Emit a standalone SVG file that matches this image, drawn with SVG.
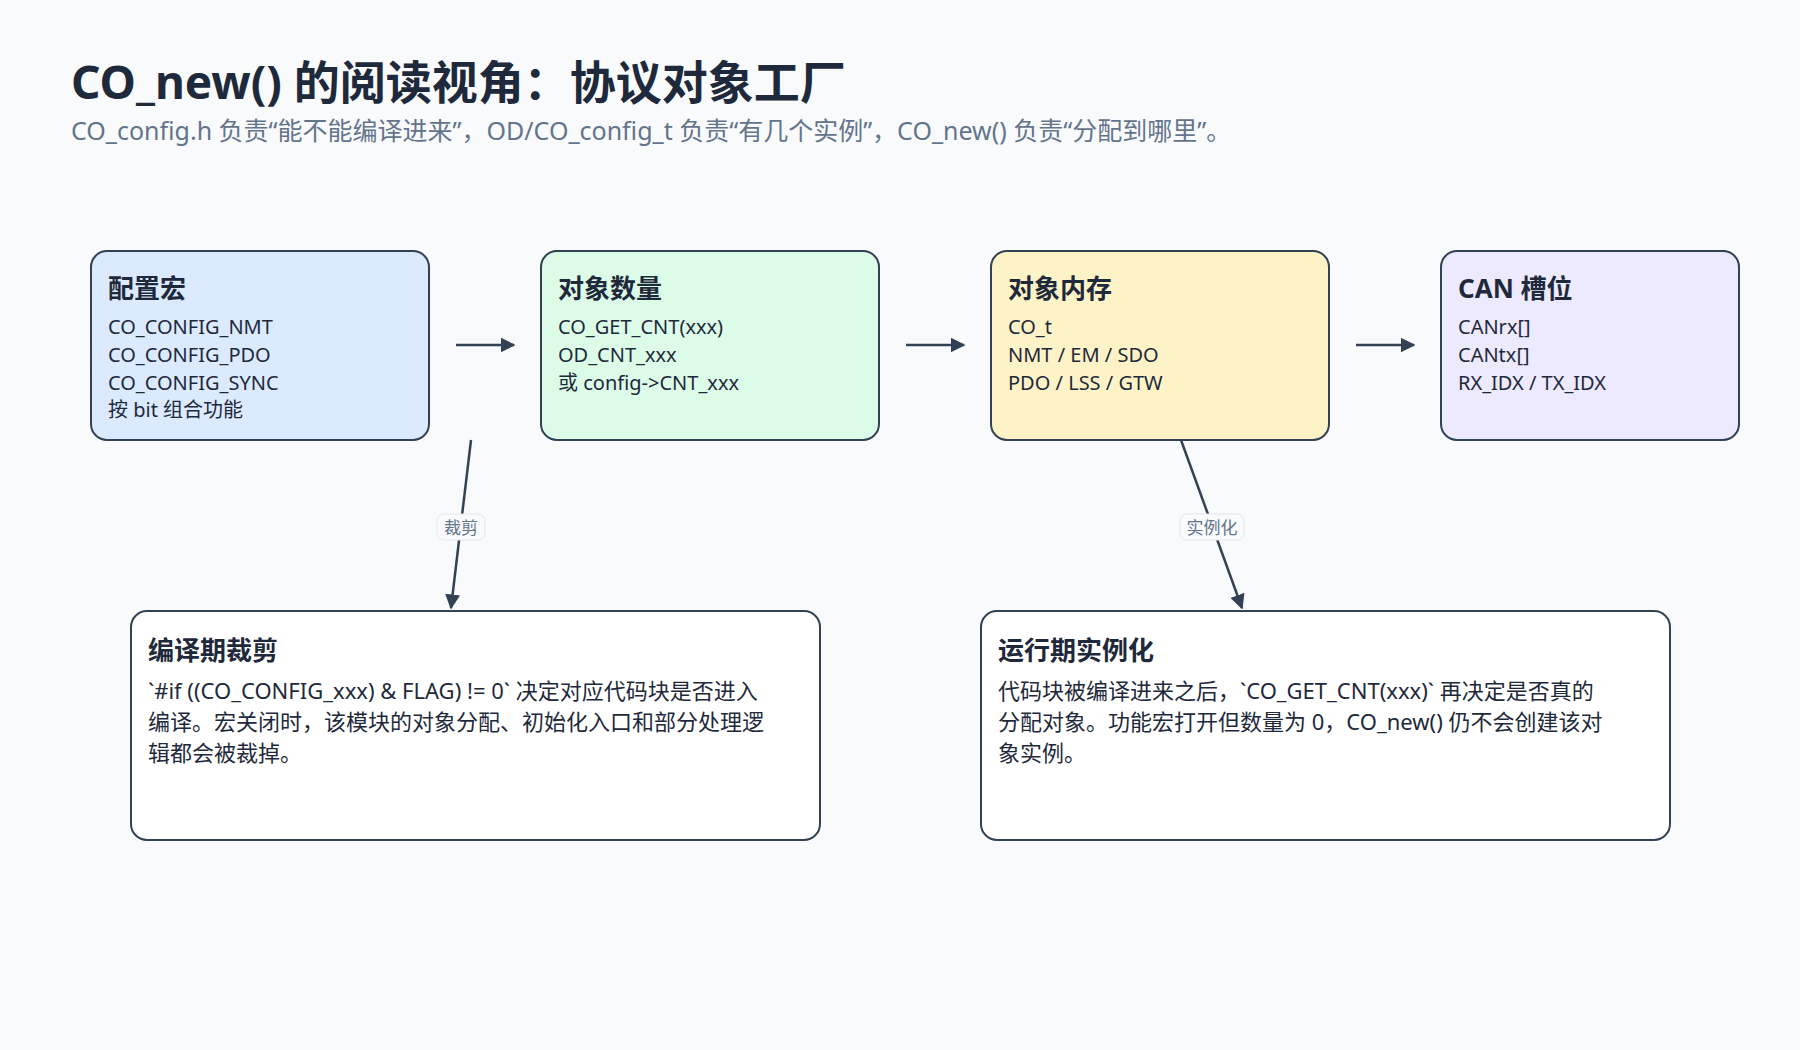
<svg xmlns="http://www.w3.org/2000/svg" width="1800" height="1050" viewBox="0 0 1800 1050">
<style>
text{font-family:"Noto Sans","Noto Sans CJK SC",sans-serif;fill:#1e293b}
.t{font-size:26px;font-weight:700}
.l{font-size:20px}
.b{font-size:22px}
.box{stroke:#334155;stroke-width:2}
.c{stroke:#334155;stroke-width:2.5;fill:none;marker-end:url(#a)}
.lab{font-size:17px;fill:#64748b;text-anchor:middle}
</style>
<defs><marker id="a" viewBox="0 0 10 10" refX="9" refY="5" markerWidth="6" markerHeight="6" orient="auto"><path d="M0 0L10 5L0 10z" fill="#334155"/></marker></defs>
<rect width="1800" height="1050" fill="#f8fafc"/>
<text x="71" y="99" style="font-size:46px;font-weight:700">CO_new() 的阅读视角：协议对象工厂</text>
<text x="71" y="140" style="font-size:25px;fill:#64748b">CO_config.h 负责“能不能编译进来”，OD/CO_config_t 负责“有几个实例”，CO_new() 负责“分配到哪里”。</text>
<g id="n1"><rect class="box" x="91" y="251" width="338" height="189" rx="16" fill="#dbeafe"/><text class="t" x="108" y="298">配置宏</text><text class="l" x="108" y="334">CO_CONFIG_NMT</text><text class="l" x="108" y="362">CO_CONFIG_PDO</text><text class="l" x="108" y="390">CO_CONFIG_SYNC</text><text class="l" x="108" y="417">按 bit 组合功能</text></g>
<g id="n2"><rect class="box" x="541" y="251" width="338" height="189" rx="16" fill="#dcfce7"/><text class="t" x="558" y="298">对象数量</text><text class="l" x="558" y="334">CO_GET_CNT(xxx)</text><text class="l" x="558" y="362">OD_CNT_xxx</text><text class="l" x="558" y="390">或 config-&gt;CNT_xxx</text></g>
<g id="n3"><rect class="box" x="991" y="251" width="338" height="189" rx="16" fill="#fef3c7"/><text class="t" x="1008" y="298">对象内存</text><text class="l" x="1008" y="334">CO_t</text><text class="l" x="1008" y="362">NMT / EM / SDO</text><text class="l" x="1008" y="390">PDO / LSS / GTW</text></g>
<g id="n4"><rect class="box" x="1441" y="251" width="298" height="189" rx="16" fill="#ede9fe"/><text class="t" x="1458" y="298">CAN 槽位</text><text class="l" x="1458" y="334">CANrx[]</text><text class="l" x="1458" y="362">CANtx[]</text><text class="l" x="1458" y="390">RX_IDX / TX_IDX</text></g>
<g id="n5"><rect class="box" x="131" y="611" width="689" height="229" rx="16" fill="#fff"/><text class="t" x="148" y="660">编译期裁剪</text><text class="b" x="148" y="699">`#if ((CO_CONFIG_xxx) &amp; FLAG) != 0` 决定对应代码块是否进入</text><text class="b" x="148" y="730">编译。宏关闭时，该模块的对象分配、初始化入口和部分处理逻</text><text class="b" x="148" y="761">辑都会被裁掉。</text></g>
<g id="n6"><rect class="box" x="981" y="611" width="689" height="229" rx="16" fill="#fff"/><text class="t" x="998" y="660">运行期实例化</text><text class="b" x="998" y="699">代码块被编译进来之后，`CO_GET_CNT(xxx)` 再决定是否真的</text><text class="b" x="998" y="730">分配对象。功能宏打开但数量为 0，CO_new() 仍不会创建该对</text><text class="b" x="998" y="761">象实例。</text></g>
<g id="connectors">
<path class="c" d="M456 345H514"/><path class="c" d="M906 345H964"/><path class="c" d="M1356 345H1414"/>
<path class="c" d="M471 440L451 608"/><path class="c" d="M1181 440L1242 608"/>
<rect x="437" y="514" width="48" height="26" rx="7" fill="#f8fafc" stroke="#e2e8f0"/><text class="lab" x="461" y="534">裁剪</text>
<rect x="1180" y="514" width="64" height="26" rx="7" fill="#f8fafc" stroke="#e2e8f0"/><text class="lab" x="1212" y="534">实例化</text>
</g>
</svg>
